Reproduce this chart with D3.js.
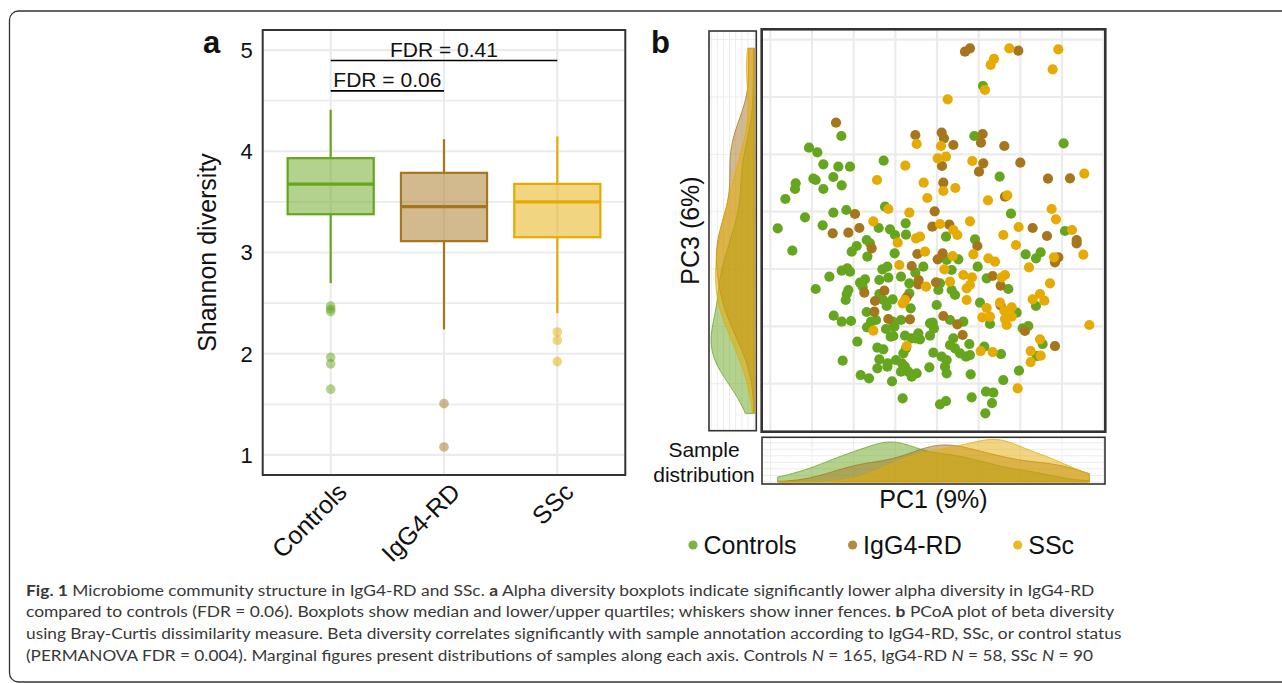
<!DOCTYPE html>
<html><head><meta charset="utf-8">
<script src="https://cdn.jsdelivr.net/npm/d3@7"></script>
<style>
body{margin:0;background:#fff}
svg{display:block}
text{font-family:"Liberation Sans",Arial,Helvetica,sans-serif;fill:#111}
</style>
</head><body>
<svg id="c" width="1282" height="683"></svg>
<script>
// ---------------- data ----------------
const groups = ["Controls", "IgG4-RD", "SSc"];
const groupColors = ["#66a61e", "#a6761d", "#e6ab02"];

// panel a: Shannon diversity boxplots
const boxQ1 = [3.378, 3.112, 3.151];
const boxMedian = [3.675, 3.454, 3.500];
const boxQ3 = [3.932, 3.787, 3.678];
const whiskerLow = [2.697, 2.240, 2.400];
const whiskerHigh = [4.410, 4.120, 4.147];
const outliersControls = [2.470, 2.440, 2.416, 1.965, 1.900, 1.650];
const outliersIgG4 = [1.507, 1.079];
const outliersSSc = [2.215, 2.133, 1.922];
const shannonTicks = [1, 2, 3, 4, 5];
const shannonMinor = [1.5, 2.5, 3.5, 4.5];
const comparisonLabels = ["FDR = 0.41", "FDR = 0.06"];
const comparisonFrom = [0, 0];
const comparisonTo = [2, 1];
const comparisonLevel = [4.896, 4.597];

// panel b: PCoA scores (PC1, PC3) x 1000
const pcControls = [
[-287,227],[-384,192],[-359,178],[-341,142],[-296,135],[-261,135],[-160,153],[-371,99],[-364,95],[-311,104],[-424,85],[-426,68],[-286,79],[-341,68],[-455,38],[-156,15],[-311,-3],[-272,5],[-396,-17],[-343,-41],[-175,-49],[-141,-53],[-94,-35],[-126,-70],[-93,-69],[-478,-50],
[138,377],[112,227],[380,205],[188,105],[222,-6],[384,-58],[114,-83],
[-434,-117],[-256,-120],[-241,-103],[-211,-85],[-201,-95],[-209,-135],[-127,-125],[27,-75],[29,-145],[64,-143],[-149,-165],[-164,-173],[-41,-165],[44,-175],[-286,-177],[-269,-170],[-261,-180],[-323,-195],[-231,-213],[-216,-203],[-223,-225],[-173,-205],[-146,-198],[-108,-195],[-65,-183],[-83,-215],[9,-215],[4,-235],[-364,-232],[-266,-235],[-271,-247],[-274,-265],[-173,-247],[-83,-245],[44,-235],[54,-250],[-161,-265],[-151,-283],[-133,-263],[-79,-290],[-1,-280],[-310,-312],[-286,-330],[-258,-328],[-211,-301],[-198,-330],[-183,-325],[-210,-347],[-133,-330],[-108,-325],[-128,-345],[-153,-352],[39,-325],[79,-330],[-21,-335],[-9,-350],[-13,-333],[-56,-365],[-64,-380],[-51,-383],[-76,-380],[-21,-372],[-96,-372],[-131,-373],[-139,-375],[-239,-390],[49,-380],[39,-400],[54,-410],[69,-425],[87,-435],[-93,-410],[-101,-425],[-179,-408],[-161,-413],[-11,-423],[14,-435],[29,-445],[24,-465],[29,-485],[-283,-447],[-173,-443],[-148,-455],[-123,-445],[-149,-465],[-179,-470],[-105,-455],[-96,-465],[-108,-480],[-86,-480],[-61,-485],[-76,-495],[-23,-467],[-229,-490],[-204,-500],[-135,-509],[-103,-560],[9,-578],[27,-568],
[266,-128],[297,-140],[311,-122],[122,-165],[149,-200],[214,-232],[297,-283],[129,-273],[239,-303],[159,-337],[257,-350],[274,-343],[97,-397],[99,-430],[317,-397],[142,-405],[192,-427],[299,-433],[101,-488],[246,-477],[199,-505],[104,-557],[147,-540],[169,-543],[165,-574],[145,-605]
];
const pcIgG4 = [
[-303,267],[-65,230],[14,237],[21,220],[49,200],[15,137],[19,87],[-246,-7],[-7,1],[-233,-49],[-14,-45],[37,-39],[-313,-65],[-266,-63],
[84,480],[99,490],[244,483],[137,233],[132,207],[202,197],[139,145],[126,120],[250,147],[333,99],[399,100],[204,45],[287,-49],[330,-73],[419,-85],
[-196,-110],[-59,-127],[17,-125],[2,-143],[-76,-163],[-55,-205],[-56,-218],[-3,-212],[-218,-243],[-158,-237],[-91,-257],[-186,-268],[-188,-300],[-146,-322],[-81,-323],[19,-313],[61,-338],[77,-370],
[419,-95],[121,-103],[364,-137],[354,-152],[167,-193],[191,-222],[191,-281],[264,-358],[354,-403]
];
const pcSSc = [
[32,337],[-61,203],[12,197],[2,160],[27,165],[-95,138],[-180,95],[-40,87],[19,62],[55,71],[-29,41],[-146,8],[-83,-3],[-191,-29],[9,-37],[49,-55],
[217,490],[364,487],[171,458],[161,440],[347,427],[144,365],[106,152],[442,114],[211,49],[153,34],[344,8],[357,-23],[99,-29],[245,-46],[61,-70],[199,-70],[405,-55],
[-118,-93],[-63,-80],[-51,-75],[-36,-120],[47,-133],[-113,-160],[22,-173],[79,-190],[-33,-225],[39,-210],[89,-230],[-96,-265],[-103,-275],[-191,-357],[-91,-403],
[237,-100],[109,-128],[351,-137],[439,-129],[154,-140],[174,-150],[276,-167],[105,-197],[99,-220],[194,-197],[204,-190],[339,-215],[89,-265],[287,-263],[309,-247],[322,-267],[149,-289],[189,-273],[224,-287],[202,-297],[136,-317],[159,-315],[204,-322],[224,-315],[209,-340],[457,-340],[309,-383],[131,-418],[167,-421],[281,-418],[311,-432],[281,-451],[242,-530]
];
const pc1Domain = [-0.526, 0.505];
const pc3Domain = [-0.660, 0.547];
const pc1GridStep = 0.125;
const pc3GridStep = 0.172;

const captionLines = [
  [["b","Fig. 1"],["n"," Microbiome community structure in IgG4-RD and SSc. "],["b","a"],["n"," Alpha diversity boxplots indicate significantly lower alpha diversity in IgG4-RD"]],
  [["n","compared to controls (FDR = 0.06). Boxplots show median and lower/upper quartiles; whiskers show inner fences. "],["b","b"],["n"," PCoA plot of beta diversity"]],
  [["n","using Bray-Curtis dissimilarity measure. Beta diversity correlates significantly with sample annotation according to IgG4-RD, SSc, or control status"]],
  [["n","(PERMANOVA FDR = 0.004). Marginal figures present distributions of samples along each axis. Controls "],["i","N"],["n"," = 165, IgG4-RD "],["i","N"],["n"," = 58, SSc "],["i","N"],["n"," = 90"]]
];

// ---------------- drawing ----------------
const svg = d3.select("#c");
const grid = "#ebebeb";

// outer frame
svg.append("rect").attr("x", 9.5).attr("y", 11).attr("width", 1300).attr("height", 671)
  .attr("rx", 9).attr("fill", "none").attr("stroke", "#333").attr("stroke-width", 1.3);

// ===== Panel a =====
const A = {l: 262.7, r: 625.3, t: 30, b: 475};
const xA = d3.scalePoint().domain(groups).range([A.l, A.r]).padding(0.6);
const yA = d3.scaleLinear().domain([0.802, 5.198]).range([A.b, A.t]);
const gA = svg.append("g");
gA.selectAll(".hm").data(shannonMinor).join("line")
  .attr("x1", A.l).attr("x2", A.r).attr("y1", d => yA(d)).attr("y2", d => yA(d))
  .attr("stroke", grid).attr("stroke-width", 1.8);
gA.selectAll(".hM").data(shannonTicks).join("line")
  .attr("x1", A.l).attr("x2", A.r).attr("y1", d => yA(d)).attr("y2", d => yA(d))
  .attr("stroke", grid).attr("stroke-width", 2.2);
gA.selectAll(".vM").data(groups).join("line")
  .attr("y1", A.t).attr("y2", A.b).attr("x1", d => xA(d)).attr("x2", d => xA(d))
  .attr("stroke", grid).attr("stroke-width", 2.2);

const boxW = xA.step() * 0.76;
const outliers = [outliersControls, outliersIgG4, outliersSSc];
groups.forEach((g, i) => {
  const cx = xA(g), col = groupColors[i];
  gA.append("line").attr("x1", cx).attr("x2", cx).attr("y1", yA(whiskerHigh[i])).attr("y2", yA(boxQ3[i]))
    .attr("stroke", col).attr("stroke-width", 2.2);
  gA.append("line").attr("x1", cx).attr("x2", cx).attr("y1", yA(boxQ1[i])).attr("y2", yA(whiskerLow[i]))
    .attr("stroke", col).attr("stroke-width", 2.2);
  gA.append("rect").attr("x", cx - boxW / 2).attr("width", boxW)
    .attr("y", yA(boxQ3[i])).attr("height", yA(boxQ1[i]) - yA(boxQ3[i]))
    .attr("fill", col).attr("fill-opacity", 0.5).attr("stroke", col).attr("stroke-width", 2.2);
  gA.append("line").attr("x1", cx - boxW / 2).attr("x2", cx + boxW / 2)
    .attr("y1", yA(boxMedian[i])).attr("y2", yA(boxMedian[i]))
    .attr("stroke", col).attr("stroke-width", 3.2);
  gA.selectAll(null).data(outliers[i]).join("circle")
    .attr("cx", cx).attr("cy", d => yA(d)).attr("r", 4.8)
    .attr("fill", col).attr("fill-opacity", 0.5);
});
gA.append("rect").attr("x", A.l).attr("y", A.t).attr("width", A.r - A.l).attr("height", A.b - A.t)
  .attr("fill", "none").attr("stroke", "#333").attr("stroke-width", 2);

// comparisons
comparisonLabels.forEach((lab, i) => {
  const x1 = xA(groups[comparisonFrom[i]]), x2 = xA(groups[comparisonTo[i]]), y = yA(comparisonLevel[i]);
  gA.append("line").attr("x1", x1).attr("x2", x2).attr("y1", y).attr("y2", y)
    .attr("stroke", "#000").attr("stroke-width", 1.6);
  gA.append("text").attr("x", (x1 + x2) / 2).attr("y", y - 4).attr("text-anchor", "middle")
    .attr("font-size", 21).text(lab);
});
// y ticks
gA.selectAll(".yt").data(shannonTicks).join("text")
  .attr("x", A.l - 10).attr("y", d => yA(d)).attr("dy", "0.36em").attr("text-anchor", "end")
  .attr("font-size", 22).text(d => d);
// x labels
gA.selectAll(".xt").data(groups).join("text")
  .attr("transform", d => `translate(${xA(d) + 5},${A.b + 6}) rotate(-45)`)
  .attr("text-anchor", "end").attr("dy", "0.72em").attr("font-size", 25).text(d => d);
gA.append("text").attr("transform", `translate(216,${(A.t + A.b) / 2}) rotate(-90)`)
  .attr("text-anchor", "middle").attr("font-size", 25).text("Shannon diversity");
svg.append("text").attr("x", 203).attr("y", 53).attr("font-size", 31).attr("font-weight", "bold").text("a");

// ===== Panel b =====
const B = {l: 761.7, r: 1105.3, t: 29.3, b: 431.7};
const xB = d3.scaleLinear().domain(pc1Domain).range([B.l, B.r]);
const yB = d3.scaleLinear().domain(pc3Domain).range([B.b, B.t]);
const xGrid = d3.range(Math.ceil(pc1Domain[0] / pc1GridStep), Math.floor(pc1Domain[1] / pc1GridStep) + 1).map(k => k * pc1GridStep);
const yGrid = d3.range(Math.ceil(pc3Domain[0] / pc3GridStep), Math.floor(pc3Domain[1] / pc3GridStep) + 1).map(k => k * pc3GridStep);
const gB = svg.append("g");
gB.selectAll(".gx").data(xGrid).join("line").attr("x1", d => xB(d)).attr("x2", d => xB(d))
  .attr("y1", B.t).attr("y2", B.b).attr("stroke", grid).attr("stroke-width", 2.2);
gB.selectAll(".gy").data(yGrid).join("line").attr("y1", d => yB(d)).attr("y2", d => yB(d))
  .attr("x1", B.l).attr("x2", B.r).attr("stroke", grid).attr("stroke-width", 2.2);

const pcSets = [pcControls, pcIgG4, pcSSc].map(s => s.map(p => [p[0] / 1000, p[1] / 1000]));
pcSets.forEach((s, i) => {
  gB.selectAll(null).data(s).join("circle")
    .attr("cx", d => xB(d[0])).attr("cy", d => yB(d[1])).attr("r", 5.1)
    .attr("fill", groupColors[i]);
});
gB.append("rect").attr("x", B.l).attr("y", B.t).attr("width", B.r - B.l).attr("height", B.b - B.t)
  .attr("fill", "none").attr("stroke", "#333").attr("stroke-width", 2.6);

// density estimates
function kde(vals, gridPts) {
  const n = vals.length, sd = d3.deviation(vals);
  const s = vals.slice().sort(d3.ascending);
  const iqr = d3.quantileSorted(s, 0.75) - d3.quantileSorted(s, 0.25);
  const bw = 0.9 * Math.min(sd, iqr / 1.34) * Math.pow(n, -0.2);
  return gridPts.map(g => [g, d3.mean(vals, v => Math.exp(-0.5 * ((g - v) / bw) ** 2)) / (bw * Math.sqrt(2 * Math.PI))]);
}
const all = pcSets.flat();
const ext1 = d3.extent(all, d => d[0]), ext3 = d3.extent(all, d => d[1]);
const g1 = d3.range(256).map(i => ext1[0] + i * (ext1[1] - ext1[0]) / 255);
const g3 = d3.range(256).map(i => ext3[0] + i * (ext3[1] - ext3[0]) / 255);
const dens1 = pcSets.map(s => kde(s.map(d => d[0]), g1));
const dens3 = pcSets.map(s => kde(s.map(d => d[1]), g3));
const M1 = d3.max(dens1.flat(), d => d[1]), M3 = d3.max(dens3.flat(), d => d[1]);

// bottom marginal
const BM = {l: 762, r: 1105, t: 437.3, b: 484};
const yD1 = d3.scaleLinear().domain([-0.05 * M1, 1.05 * M1]).range([BM.b, BM.t]);
const gBM = svg.append("g");
const dTicks1 = d3.range(0, 1.05 * M1, M1 / 6.5);
gBM.selectAll(".a").data(dTicks1).join("line").attr("x1", BM.l).attr("x2", BM.r)
  .attr("y1", d => yD1(d)).attr("y2", d => yD1(d)).attr("stroke", grid).attr("stroke-width", 1);
gBM.selectAll(".b").data(xGrid).join("line").attr("y1", BM.t).attr("y2", BM.b)
  .attr("x1", d => xB(d)).attr("x2", d => xB(d)).attr("stroke", grid).attr("stroke-width", 1);
const area1 = d3.area().x(d => xB(d[0])).y0(yD1(0)).y1(d => yD1(d[1]));
dens1.forEach((d, i) => gBM.append("path").attr("d", area1(d)).attr("fill", groupColors[i])
  .attr("fill-opacity", 0.5).attr("stroke", groupColors[i]).attr("stroke-width", 0.8));
gBM.append("rect").attr("x", BM.l).attr("y", BM.t).attr("width", BM.r - BM.l).attr("height", BM.b - BM.t)
  .attr("fill", "none").attr("stroke", "#333").attr("stroke-width", 1.6);

// left marginal
const LM = {l: 709, r: 756.3, t: 31, b: 430.7};
const xD3 = d3.scaleLinear().domain([-0.05 * M3, 1.05 * M3]).range([LM.r, LM.l]);
const gLM = svg.append("g");
const dTicks3 = d3.range(0, 1.05 * M3, M3 / 7);
gLM.selectAll(".a").data(dTicks3).join("line").attr("y1", LM.t).attr("y2", LM.b)
  .attr("x1", d => xD3(d)).attr("x2", d => xD3(d)).attr("stroke", grid).attr("stroke-width", 1);
gLM.selectAll(".b").data(yGrid).join("line").attr("x1", LM.l).attr("x2", LM.r)
  .attr("y1", d => yB(d)).attr("y2", d => yB(d)).attr("stroke", grid).attr("stroke-width", 1);
const area3 = d3.area().y(d => yB(d[0])).x0(xD3(0)).x1(d => xD3(d[1]));
dens3.forEach((d, i) => gLM.append("path").attr("d", area3(d)).attr("fill", groupColors[i])
  .attr("fill-opacity", 0.5).attr("stroke", groupColors[i]).attr("stroke-width", 0.8));
gLM.append("rect").attr("x", LM.l).attr("y", LM.t).attr("width", LM.r - LM.l).attr("height", LM.b - LM.t)
  .attr("fill", "none").attr("stroke", "#333").attr("stroke-width", 1.6);

// labels panel b
svg.append("text").attr("x", 651).attr("y", 53).attr("font-size", 31).attr("font-weight", "bold").text("b");
svg.append("text").attr("transform", `translate(699,${(B.t + B.b) / 2}) rotate(-90)`)
  .attr("text-anchor", "middle").attr("font-size", 25).text("PC3 (6%)");
svg.append("text").attr("x", (B.l + B.r) / 2).attr("y", 508).attr("text-anchor", "middle")
  .attr("font-size", 25).text("PC1 (9%)");
svg.append("text").attr("x", 704).attr("y", 456.7).attr("text-anchor", "middle").attr("font-size", 21).text("Sample");
svg.append("text").attr("x", 704).attr("y", 481.7).attr("text-anchor", "middle").attr("font-size", 21).text("distribution");

// legend
let lx = 693;
groups.forEach((g, i) => {
  svg.append("circle").attr("cx", lx).attr("cy", 545).attr("r", 4.6).attr("fill", groupColors[i]).attr("fill-opacity", 0.85);
  const t = svg.append("text").attr("x", lx + 10.5).attr("y", 553.5).attr("font-size", 25).text(g);
  lx += 10.5 + t.node().getComputedTextLength() + 56;
});

// caption
const capEnds = [1095, 1115, 1121.7, 1093.3];
const capBase = [595.7, 617.3, 639, 660.7];
captionLines.forEach((parts, li) => {
  const t = svg.append("text").attr("font-size", 16)
    .style("font-family", "Lato, 'Open Sans', sans-serif").style("fill", "#383838");
  parts.forEach(([st, s]) => {
    const sp = t.append("tspan").text(s);
    if (st === "b") sp.attr("font-weight", "bold");
    if (st === "i") sp.attr("font-style", "italic");
  });
  const x0 = 26;
  const w = t.node().getComputedTextLength();
  t.attr("transform", `translate(${x0},${capBase[li]}) scale(${(capEnds[li] - x0) / w},1)`);
});
</script>
</body></html>
